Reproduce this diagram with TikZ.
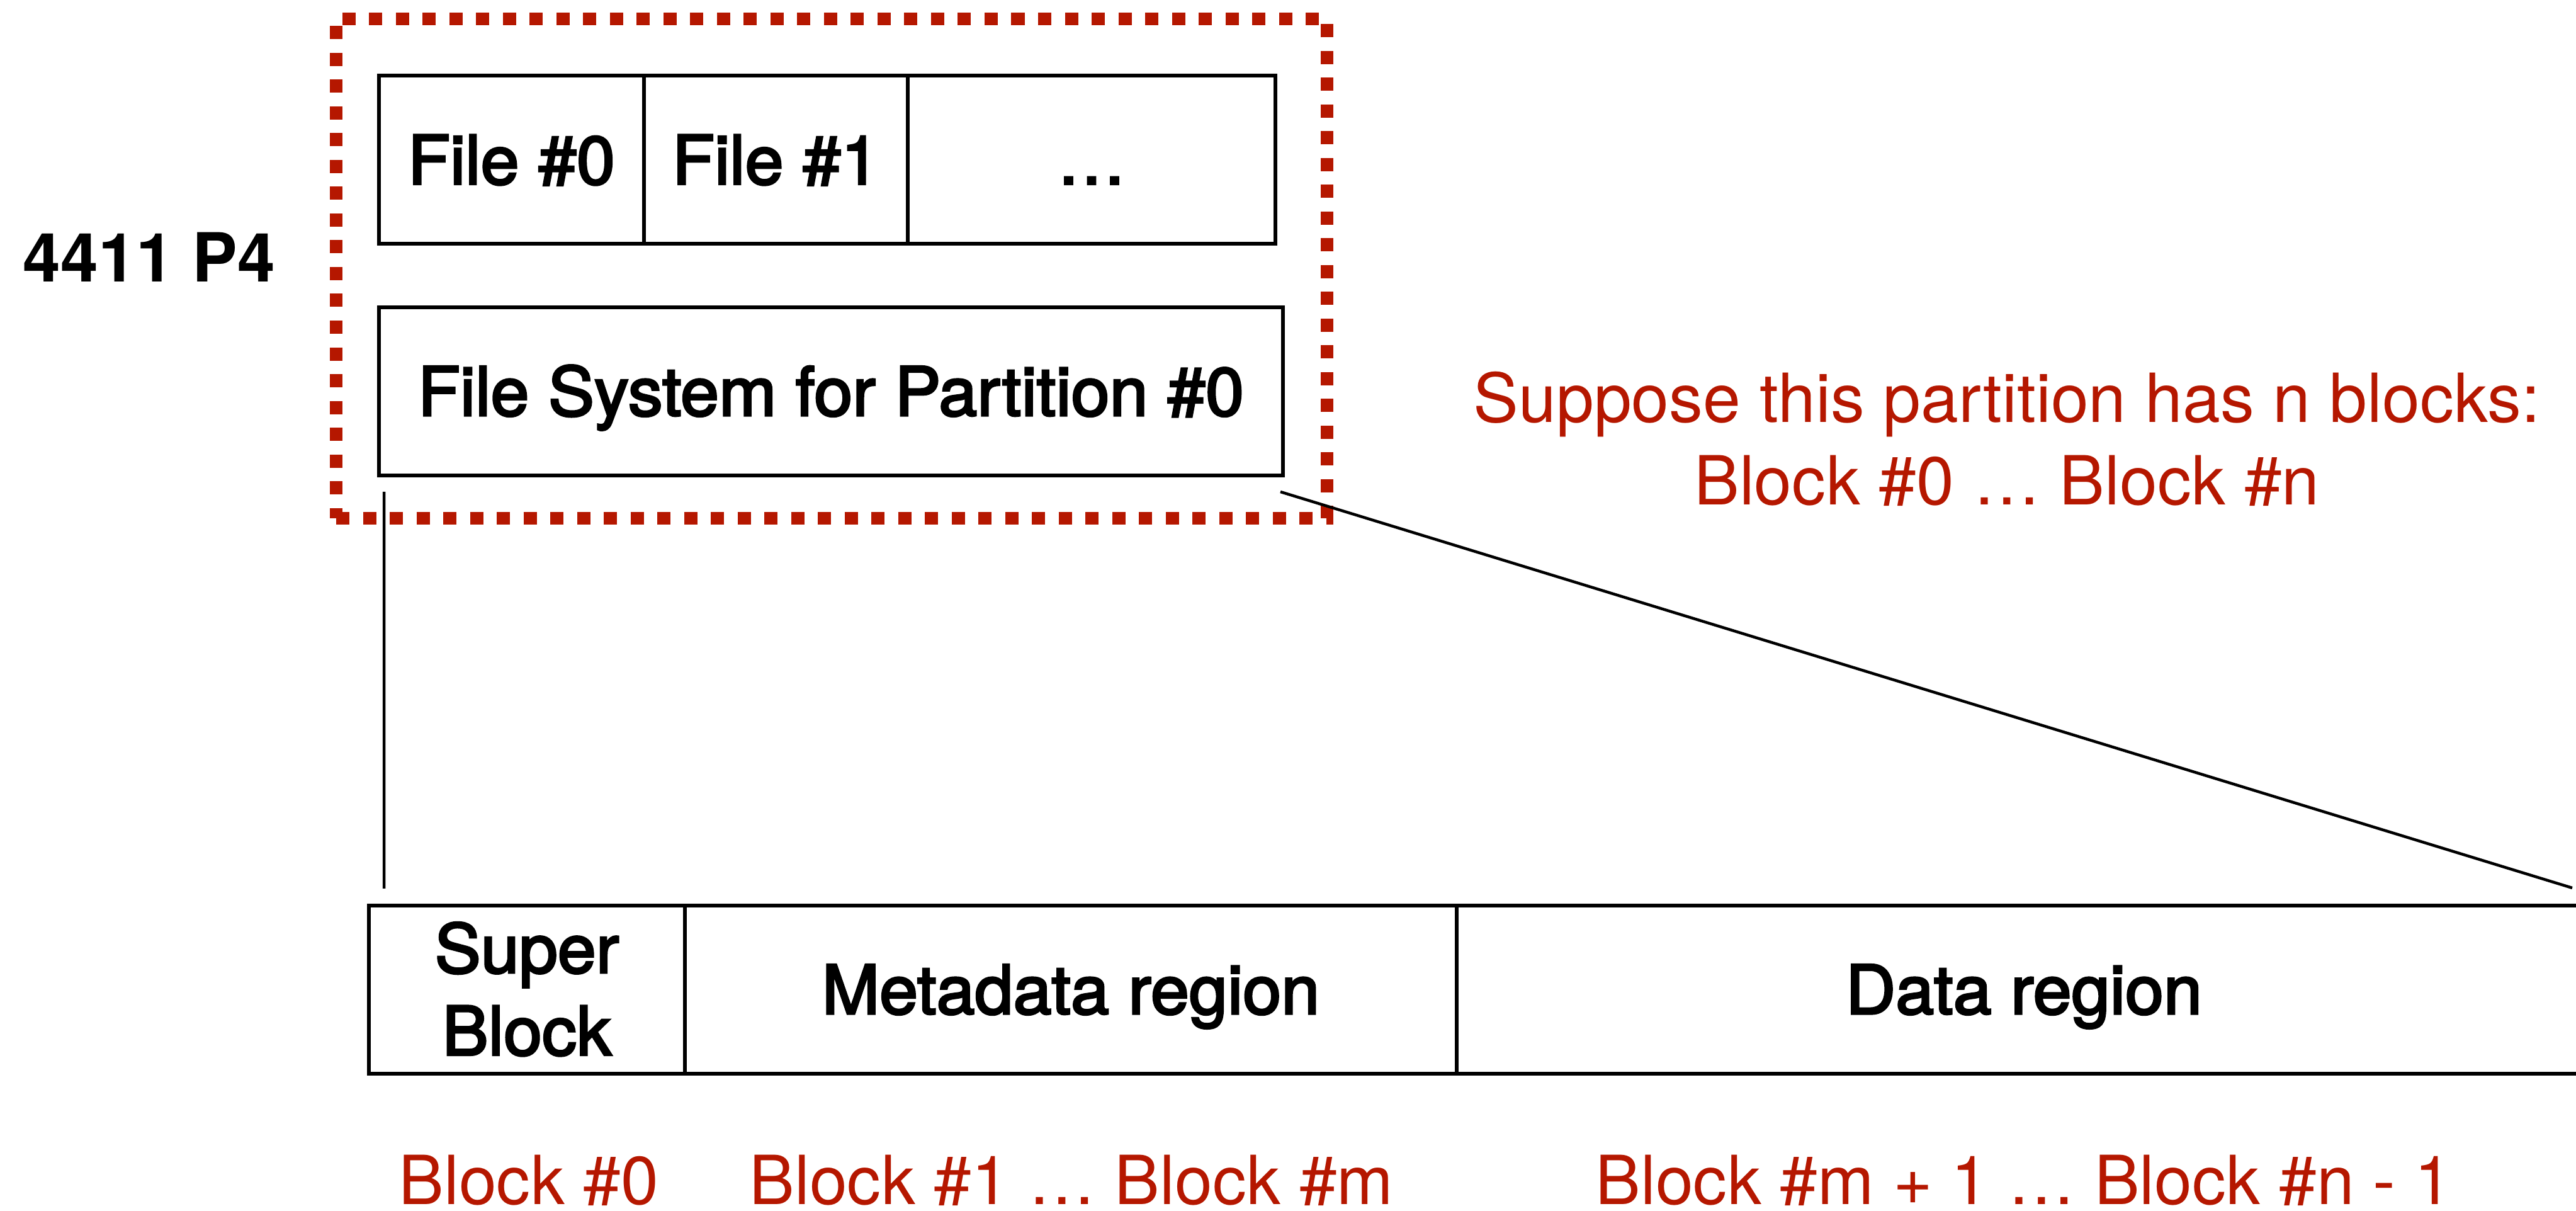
\documentclass[tikz,border=0pt]{standalone}
\usepackage{fontspec}
\setmainfont{TeX Gyre Heros}
\newfontfamily\boxfont[FakeBold=3,FakeStretch=1.02]{TeX Gyre Heros}
\usetikzlibrary{positioning}
\definecolor{keyred}{RGB}{181,23,0}
\newcommand\keysize{\fontsize{30.6}{37.2}\selectfont}
\tikzset{
  cell/.style={draw, line width=0.06cm, minimum height=2.67cm, inner sep=0pt,
    font=\boxfont\keysize, text height=0.77cm, text depth=0pt},
  note/.style={text=keyred, inner sep=0pt},
  link/.style={line width=0.045cm},
}
\begin{document}
\begin{tikzpicture}[font=\keysize]
  \useasboundingbox (0,0) rectangle (40.92,19.23);
  \node[draw=keyred, line width=0.2cm, dash pattern=on 0.21cm off 0.215cm,
    minimum width=15.74cm, minimum height=7.93cm] (part0) at (13.21,14.965) {};
  \node[cell, minimum width=4.21cm] (file0) at (8.125,16.69) {File \#0};
  \node[cell, minimum width=4.19cm] (file1) at (12.325,16.69) {File \#1};
  \node[cell, minimum width=5.84cm] (more) at (17.34,16.69) {…};
  \node[cell, minimum width=14.36cm] (fs) at (13.2,13.015) {File System for Partition \#0};
  \node[anchor=base] (title) at (2.37,14.75) {\textbf{4411 P4}};
  \node[note, align=center, text height=2.06cm, text depth=0pt] (nblocks) at (31.88,12.245)
    {Suppose this partition has n blocks:\\Block \#0 … Block \#n};
  \node[cell, minimum width=5.02cm, align=center, text height=2.08cm] (super) at (8.37,3.515) {Super\\Block};
  \node[cell, minimum width=12.26cm] (meta) at (17.01,3.515) {Metadata region};
  \node[cell, minimum width=18.02cm] (data) at (32.15,3.515) {Data region};
  \node[note, anchor=base] (blk0) at (8.40,0.10) {Block \#0};
  \node[note, anchor=base] (blkm) at (17.02,0.10) {Block \#1 … Block \#m};
  \node[note, anchor=base] (blkn) at (32.15,0.10) {Block \#m + 1 … Block \#n - 1};
  \begin{scope}[link]
    \draw ([shift={(0.11,-0.23)}]fs.south west) -- ([shift={(0.27,0.24)}]super.north west);
    \draw ([shift={(-0.07,-0.23)}]fs.south east) -- ([shift={(-0.33,0.25)}]data.north east);
  \end{scope}
\end{tikzpicture}
\end{document}
